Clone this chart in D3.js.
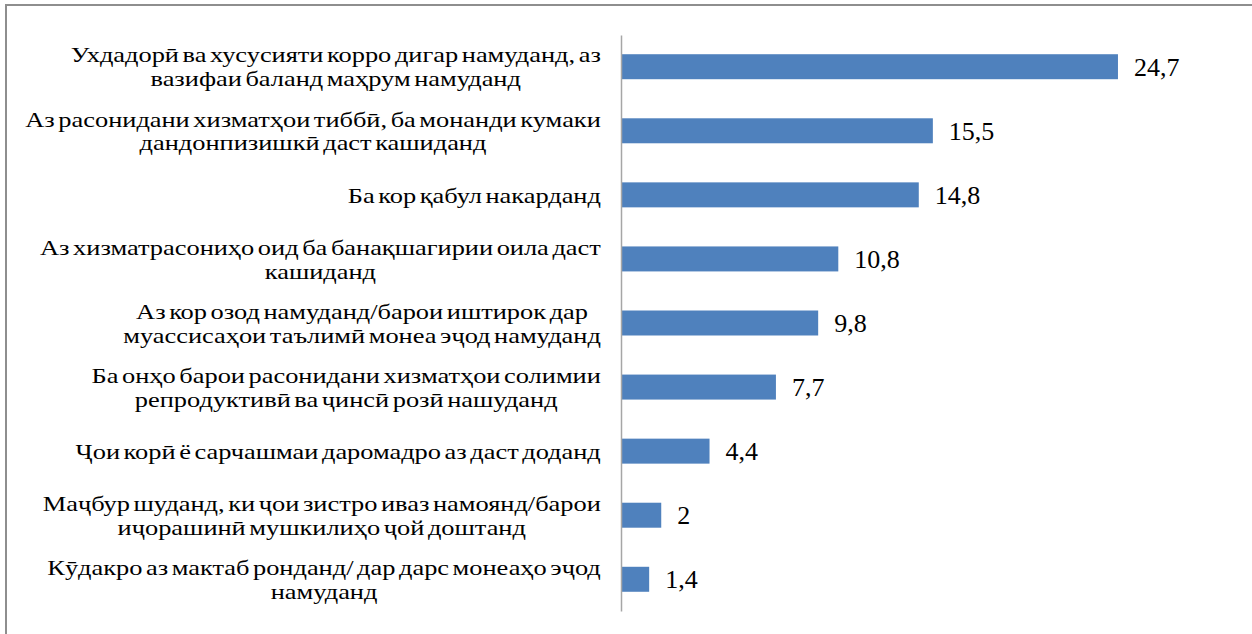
<!DOCTYPE html>
<html>
<head>
<meta charset="utf-8">
<script src="https://cdn.jsdelivr.net/npm/d3@7"></script>
<style>
html,body{margin:0;padding:0;background:#fff;}
svg{display:block;}
</style>
</head>
<body>
<svg id="chart" width="1252" height="634"></svg>
<script>
const categories = [
  ["Ухдадорӣ ва хусусияти корро дигар намуданд, аз", "вазифаи баланд маҳрум намуданд"],
  ["Аз расонидани хизматҳои тиббӣ, ба монанди кумаки", "дандонпизишкӣ даст кашиданд"],
  ["Ба кор қабул накарданд"],
  ["Аз хизматрасониҳо оид ба банақшагирии оила даст", "кашиданд"],
  ["Аз кор озод намуданд/барои иштирок дар", "муассисаҳои таълимӣ монеа эҷод намуданд"],
  ["Ба онҳо барои расонидани хизматҳои солимии", "репродуктивӣ ва ҷинсӣ розӣ нашуданд"],
  ["Ҷои корӣ ё сарчашмаи даромадро аз даст доданд"],
  ["Маҷбур шуданд, ки ҷои зистро иваз намоянд/барои", "иҷорашинӣ мушкилиҳо ҷой доштанд"],
  ["Кӯдакро аз мактаб ронданд/ дар дарс монеаҳо эҷод", "намуданд"]
];
const values = [24.7, 15.5, 14.8, 10.8, 9.8, 7.7, 4.4, 2, 1.4];

const FONT = "Liberation Serif";
const svg = d3.select("#chart");
const axisX = 621;
const pxPerUnit = 20.12;
const x = d3.scaleLinear().domain([0, 30]).range([axisX, axisX + 30 * pxPerUnit]);
const y = d3.scaleBand().domain(d3.range(values.length)).range([35, 611]).paddingInner(0.61).paddingOuter(0.3);

const locale = d3.formatLocale({decimal: ",", thousands: " ", grouping: [3], currency: ["", ""]});
const fmt = v => Number.isInteger(v) ? String(v) : locale.format(".1f")(v);

// frame
svg.append("rect").attr("x", 6).attr("y", 5).attr("width", 1260).attr("height", 650)
  .attr("fill", "none").attr("stroke", "#8e8e8e").attr("stroke-width", 2);

// bars
svg.selectAll("rect.bar").data(values).enter().append("rect")
  .attr("class", "bar")
  .attr("x", x(0))
  .attr("y", (d, i) => y(i))
  .attr("width", d => x(d) - x(0))
  .attr("height", y.bandwidth())
  .attr("fill", "#4f81bd");

// axis
const axis = d3.axisLeft(y).tickSize(0).tickFormat("");
const ag = svg.append("g").attr("transform", `translate(${axisX},0)`).call(axis);
ag.select(".domain").attr("stroke", "#a6a6a6").attr("stroke-width", 1.5);

// value labels
svg.selectAll("text.val").data(values).enter().append("text")
  .attr("class", "val")
  .attr("x", d => x(d) + 16)
  .attr("y", (d, i) => y(i) + y.bandwidth() / 2)
  .attr("dy", "0.35em")
  .attr("font-family", FONT)
  .attr("font-size", 26)
  .attr("fill", "#000")
  .text(d => fmt(d));

// category labels (reference text is horizontally stretched)
const lineH = 24;
const rightEdge = 601;
const sx = 1.2;
categories.forEach((lines, i) => {
  const cy = y(i) + y.bandwidth() / 2;
  const g = svg.append("g");
  const texts = lines.map((ln, j) => g.append("text")
    .attr("font-family", FONT)
    .attr("font-size", 22)
    .attr("word-spacing", "-2.5px")
    .attr("fill", "#000")
    .attr("text-anchor", "middle")
    .attr("y", (j - (lines.length - 1) / 2) * lineH)
    .attr("dy", "0.35em")
    .text(ln));
  const maxW = d3.max(texts, t => t.node().getComputedTextLength());
  texts.forEach(t => t.attr("x", -maxW / 2));
  g.attr("transform", `translate(${rightEdge},${cy}) scale(${sx},1)`);
});
</script>
</body>
</html>
